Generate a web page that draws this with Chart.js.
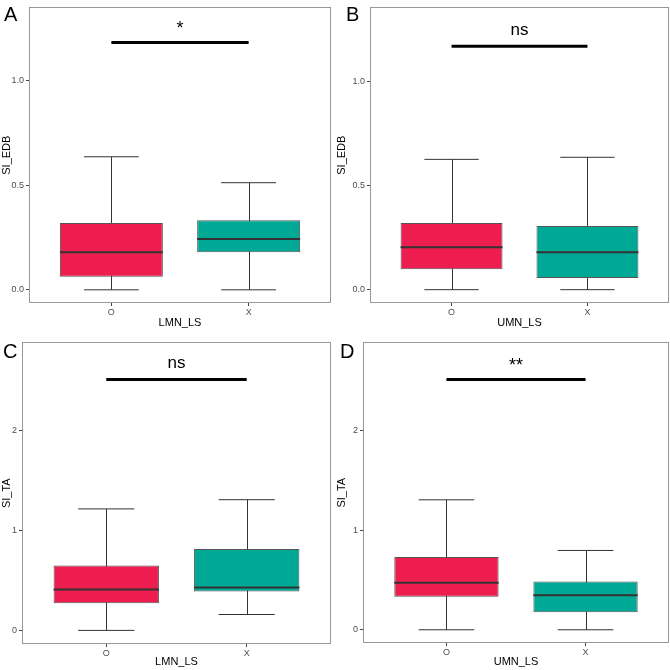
<!DOCTYPE html>
<html>
<head>
<meta charset="utf-8">
<script src="https://cdn.jsdelivr.net/npm/chart.js@4/dist/chart.umd.min.js"></script>
<style>
  body { margin: 0; background: #fff; }
  #wrap { position: relative; width: 670px; height: 670px; }
  canvas { position: absolute; }
</style>
</head>
<body>
<div id="wrap">
  <canvas id="panelA" width="335" height="335" style="left:0;top:0"></canvas>
  <canvas id="panelB" width="335" height="335" style="left:335px;top:0"></canvas>
  <canvas id="panelC" width="335" height="335" style="left:0;top:335px"></canvas>
  <canvas id="panelD" width="335" height="335" style="left:335px;top:335px"></canvas>
</div>
<script>
// dados
const categories = ['O', 'X'];
const panelLetters = ['A', 'B', 'C', 'D'];
const xTitles = ['LMN_LS', 'UMN_LS', 'LMN_LS', 'UMN_LS'];
const yTitles = ['SI_EDB', 'SI_EDB', 'SI_TA', 'SI_TA'];
const whiskerLow = [[0, 0], [0, 0], [0, 0.159], [0, 0]];
const q1 = [[0.062, 0.179], [0.098, 0.056], [0.271, 0.39], [0.332, 0.176]];
const median = [[0.179, 0.243], [0.204, 0.18], [0.41, 0.43], [0.472, 0.346]];
const q3 = [[0.319, 0.332], [0.320, 0.306], [0.648, 0.814], [0.731, 0.485]];
const whiskerHigh = [[0.636, 0.512], [0.626, 0.636], [1.215, 1.307], [1.306, 0.797]];
const sigLabels = ['*', 'ns', 'ns', '**'];
const sigHeights = [1.182, 1.169, 2.51, 2.515];
const yTicks = [[0, 0.5, 1.0], [0, 0.5, 1.0], [0, 1, 2], [0, 1, 2]];
const yDecimals = [1, 1, 0, 0];
const yMin = [-0.063, -0.064, -0.136, -0.133];
const yMax = [1.35, 1.356, 2.88, 2.888];

const boxColors = ['#ED1E4F', '#00A896'];

// área do gráfico em cada canvas: left, top, right, bottom
const areas = [
    [29, 1, 331, 303],
    [35, 1, 334, 303],
    [22, 5, 331, 309],
    [28, 5, 334, 308]
];
const letterPos = [[4, 21], [11, 21], [3, 23], [5, 23]];

const FONT = '"Liberation Sans", Arial, sans-serif';

const boxPlugin = {
    id: 'boxExtras',
    beforeDatasetsDraw(chart) {
        const p = chart.options.plugins.boxExtras;
        const xs = chart.scales.x, ys = chart.scales.y;
        const ctx = chart.ctx;
        ctx.save();
        ctx.strokeStyle = '#333';
        ctx.lineWidth = 1;
        categories.forEach((c, i) => {
            const x = Math.round(xs.getPixelForValue(i + 1)) + 0.5;
            const lo = ys.getPixelForValue(whiskerLow[p.idx][i]);
            const hi = ys.getPixelForValue(whiskerHigh[p.idx][i]);
            ctx.beginPath();
            ctx.moveTo(x, lo);
            ctx.lineTo(x, hi);
            // tampas
            [lo, hi].forEach(y => {
                ctx.moveTo(xs.getPixelForValue(i + 0.8), y);
                ctx.lineTo(xs.getPixelForValue(i + 1.2), y);
            });
            ctx.stroke();
        });
        ctx.restore();
    },
    afterDatasetsDraw(chart) {
        const p = chart.options.plugins.boxExtras;
        const xs = chart.scales.x, ys = chart.scales.y;
        const ctx = chart.ctx;
        ctx.save();
        ctx.strokeStyle = '#333';
        ctx.lineWidth = 2;
        categories.forEach((c, i) => {
            const y = ys.getPixelForValue(median[p.idx][i]);
            ctx.beginPath();
            ctx.moveTo(xs.getPixelForValue(i + 1 - 0.375), y);
            ctx.lineTo(xs.getPixelForValue(i + 1 + 0.375), y);
            ctx.stroke();
        });
        ctx.restore();
    },
    afterDraw(chart) {
        const p = chart.options.plugins.boxExtras;
        const xs = chart.scales.x, ys = chart.scales.y;
        const a = chart.chartArea;
        const ctx = chart.ctx;
        ctx.save();
        // moldura
        ctx.strokeStyle = '#999';
        ctx.lineWidth = 1;
        ctx.strokeRect(Math.round(a.left) + 0.5, Math.round(a.top) + 0.5,
            Math.round(a.right - a.left) - 1, Math.round(a.bottom - a.top) - 1);
        // barra de significância
        const sy = ys.getPixelForValue(sigHeights[p.idx]);
        ctx.strokeStyle = '#000';
        ctx.lineWidth = 3;
        ctx.beginPath();
        ctx.moveTo(xs.getPixelForValue(1), sy);
        ctx.lineTo(xs.getPixelForValue(2), sy);
        ctx.stroke();
        const lbl = sigLabels[p.idx];
        ctx.fillStyle = '#000';
        ctx.textAlign = 'center';
        ctx.textBaseline = 'alphabetic';
        ctx.font = lbl === 'ns' ? '17px ' + FONT : '18px ' + FONT;
        ctx.fillText(lbl, xs.getPixelForValue(1.5), lbl === 'ns' ? sy - 11 : sy - 9);
        // letra do painel
        ctx.textAlign = 'left';
        ctx.font = '20px ' + FONT;
        ctx.fillText(panelLetters[p.idx], letterPos[p.idx][0], letterPos[p.idx][1]);
        ctx.restore();
    }
};

function makePanel(canvasId, idx) {
    const ctx = document.getElementById(canvasId);
    const [aL, aT, aR, aB] = areas[idx];
    return new Chart(ctx, {
        type: 'bar',
        data: {
            datasets: [{
                data: categories.map((c, i) => ({ x: i + 1, y: [q1[idx][i], q3[idx][i]] })),
                backgroundColor: boxColors,
                borderColor: '#555',
                borderWidth: 1,
                borderSkipped: false,
                barPercentage: 0.75,
                categoryPercentage: 1
            }]
        },
        options: {
            responsive: false,
            animation: false,
            layout: { padding: { left: 0, top: aT, right: 335 - aR, bottom: 0 } },
            plugins: {
                legend: { display: false },
                tooltip: { enabled: false },
                boxExtras: { idx: idx }
            },
            scales: {
                x: {
                    type: 'linear',
                    min: 0.4,
                    max: 2.6,
                    offset: false,
                    afterBuildTicks: s => { s.ticks = categories.map((c, i) => ({ value: i + 1 })); },
                    afterFit: s => { s.height = 335 - aB; },
                    ticks: {
                        callback: v => categories[v - 1],
                        color: '#4d4d4d',
                        font: { family: FONT, size: 9 },
                        padding: 1,
                        maxRotation: 0
                    },
                    grid: { display: true, drawOnChartArea: false, drawTicks: true, tickLength: 3, color: '#444', offset: false },
                    border: { display: false },
                    title: {
                        display: true,
                        text: xTitles[idx],
                        color: '#000',
                        font: { family: FONT, size: 11 },
                        padding: { top: 0, bottom: idx < 2 ? 5 : 1 }
                    }
                },
                y: {
                    type: 'linear',
                    min: yMin[idx],
                    max: yMax[idx],
                    afterBuildTicks: s => { s.ticks = yTicks[idx].map(v => ({ value: v })); },
                    afterFit: s => { s.width = aL; },
                    ticks: {
                        callback: v => v.toFixed(yDecimals[idx]),
                        color: '#4d4d4d',
                        font: { family: FONT, size: 9 },
                        padding: 2
                    },
                    grid: { display: true, drawOnChartArea: false, drawTicks: true, tickLength: 3, color: '#444' },
                    border: { display: false },
                    title: {
                        display: true,
                        text: yTitles[idx],
                        color: '#000',
                        font: { family: FONT, size: 11 },
                        padding: { top: 0, bottom: 0 }
                    }
                }
            }
        },
        plugins: [boxPlugin]
    });
}

document.addEventListener('DOMContentLoaded', function() {
    ['panelA', 'panelB', 'panelC', 'panelD'].forEach((id, i) => makePanel(id, i));
});
</script>
</body>
</html>
